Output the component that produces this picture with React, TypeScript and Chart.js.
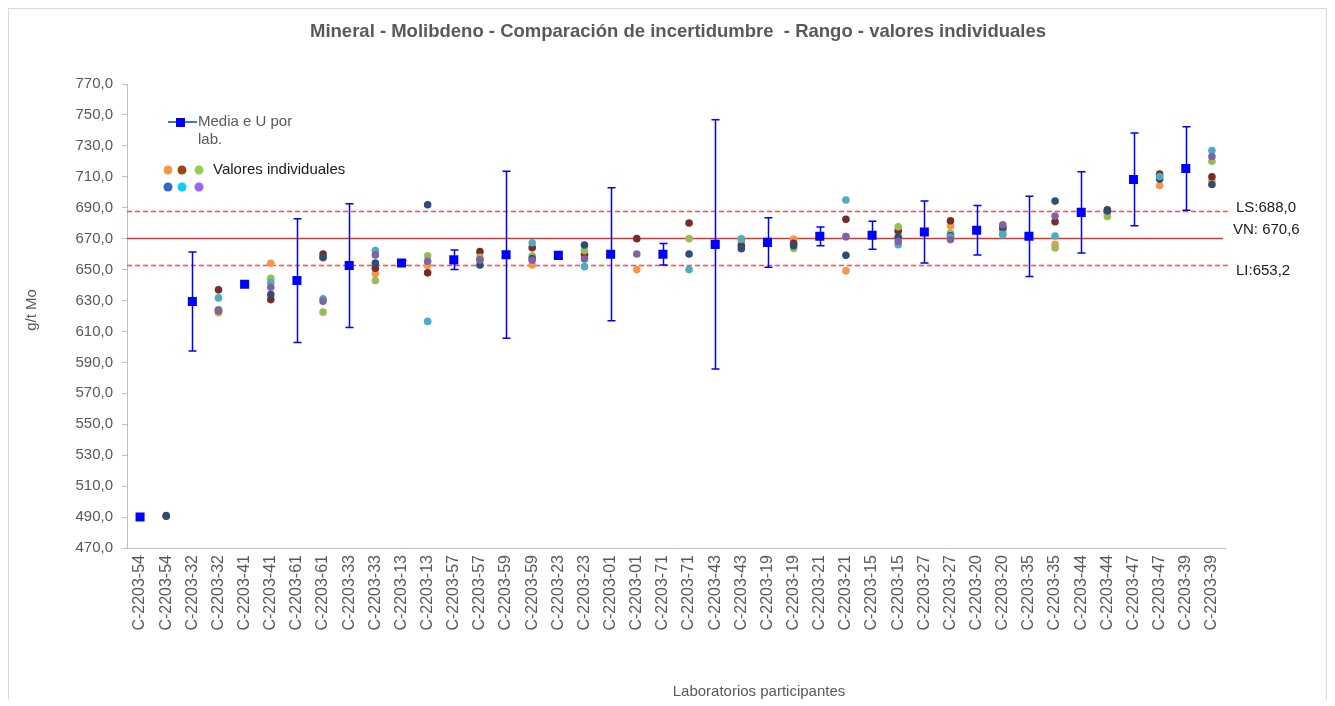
import React, { useEffect, useRef } from 'react';
import { Chart, registerables } from 'chart.js';

Chart.register(...registerables);

// ---------- DATA ----------
const labIds = ['54', '32', '41', '61', '33', '13', '57', '59', '23', '01', '71', '43', '19', '21', '15', '27', '20', '35', '44', '47', '39'];
const categories = labIds.flatMap((id) => [`C-2203-${id}`, `C-2203-${id}`]);

// mean and expanded uncertainty per lab
const labMean = [490.0, 629.4, 640.5, 642.9, 652.6, 654.3, 656.3, 659.6, 659.2, 659.9, 659.9, 666.3, 667.6, 671.5, 672.2, 674.3, 675.4, 671.5, 687.0, 708.3, 715.4];
const labU = [0, 32.0, 0, 40.0, 40.0, 1.5, 6.3, 54.0, 0, 43.0, 7.0, 80.6, 16.0, 6.0, 9.0, 20.0, 16.0, 26.0, 26.3, 30.0, 27.0];

// individual values per lab, one array per series
const valOrange = [null, 622.1, 654.1, 657.5, 647.4, 652.6, 656.5, 653.0, 658.4, 650.0, null, 668.5, 669.8, 649.2, 674.0, 678.2, 674.7, 666.3, 686.3, 704.4, 707.4];
const valBrown = [490.6, 636.9, 630.6, 660.1, 650.9, 647.9, 661.6, 664.2, 660.1, 670.0, 680.1, 665.5, 667.0, 682.5, 675.2, 681.6, 676.9, 681.0, 688.7, 711.7, 710.0];
const valGreen = [null, 624.2, 644.4, 622.5, 642.9, 659.0, 658.0, 659.0, 662.3, null, 670.0, 670.0, 663.7, 671.3, 677.7, 673.7, 673.0, 664.0, 684.4, null, 720.1];
const valDarkBlue = [490.9, 623.5, 633.9, 658.0, 654.3, 691.9, 653.0, 657.1, 665.9, null, 660.1, 663.5, 665.5, 659.2, 670.9, 671.9, 677.5, 694.3, 688.0, 708.5, 705.0];
const valCyan = [null, 631.7, 641.6, 631.1, 662.3, 616.5, 656.3, 667.4, 651.9, null, 650.0, 669.5, null, 695.0, 666.1, 671.0, 672.6, 671.7, null, 710.2, 727.0];
const valPurple = [null, 623.5, 638.6, 629.6, 659.5, 655.4, 656.3, 656.0, 656.9, 660.1, null, null, null, 671.3, 668.1, 669.4, 679.0, 684.6, null, null, 723.1];

// reference values
const refLS = 688.0;
const refVN = 670.6;
const refLI = 653.2;

const yMin = 470;
const yMax = 770;
const yStep = 20;

const titleText = 'Mineral - Molibdeno - Comparación de incertidumbre  - Rango - valores individuales';
const yTitle = 'g/t Mo';
const xTitle = 'Laboratorios participantes';
const legendMean = ['Media e U por', 'lab.'];
const legendInd = 'Valores individuales';

// ---------- STYLE ----------
const FONT = "'Liberation Sans', Arial, sans-serif";
const GREY = '#595959';
const AXIS = '#BFBFBF';
const seriesColors = ['#F79646', '#772C2A', '#9BBB59', '#2C4D75', '#4BACC6', '#8064A2'];
const legendColors = ['#F79646', '#9A4712', '#92D050', '#3366CC', '#0FCBF7', '#9966FF'];
const MEAN_COLOR = '#0000FF';

const fmt = (v: number) => v.toFixed(1).replace('.', ',');

const expandMean = categories.map((_, i) => (i % 2 === 0 ? labMean[i / 2] : null));
const expandInd = (arr: (number | null)[]) => categories.map((_, i) => (i % 2 === 1 ? arr[(i - 1) / 2] : null));

const individualSeries = [valOrange, valBrown, valGreen, valDarkBlue, valCyan, valPurple];

const decorPlugin = {
  id: 'decor',
  beforeDatasetsDraw(chart: any) {
    const { ctx, chartArea, scales } = chart;
    const x = scales.x;
    const y = scales.y;
    ctx.save();
    // reference lines
    const drawRef = (v: number, dashed: boolean, color: string, extra: number) => {
      const py = Math.round(y.getPixelForValue(v)) + 0.5;
      ctx.beginPath();
      ctx.strokeStyle = color;
      ctx.lineWidth = 1.5;
      ctx.setLineDash(dashed ? [5, 3] : []);
      ctx.moveTo(chartArea.left, py);
      ctx.lineTo(chartArea.right + extra, py);
      ctx.stroke();
    };
    drawRef(refLS, true, '#FF4D4D', 3);
    drawRef(refLI, true, '#FF4D4D', 3);
    drawRef(refVN, false, '#E8302F', -2);
    ctx.setLineDash([]);
    // error bars
    ctx.strokeStyle = MEAN_COLOR;
    ctx.lineWidth = 1.5;
    labMean.forEach((m, j) => {
      const u = labU[j];
      if (!u) return;
      const px = Math.round(x.getPixelForValue(2 * j)) + 0.5;
      const yt = y.getPixelForValue(m + u);
      const yb = y.getPixelForValue(m - u);
      ctx.beginPath();
      ctx.moveTo(px, yt);
      ctx.lineTo(px, yb);
      ctx.moveTo(px - 4, yt);
      ctx.lineTo(px + 4, yt);
      ctx.moveTo(px - 4, yb);
      ctx.lineTo(px + 4, yb);
      ctx.stroke();
    });
    ctx.restore();
  },
  afterDraw(chart: any) {
    const { ctx, chartArea, scales, width, height } = chart;
    const y = scales.y;
    ctx.save();
    // outer border
    ctx.strokeStyle = '#D9D9D9';
    ctx.lineWidth = 1;
    ctx.strokeRect(0.5, 0.5, width - 1, height + 10);

    // title
    ctx.fillStyle = GREY;
    ctx.font = `bold 18.5px ${FONT}`;
    ctx.textAlign = 'center';
    ctx.textBaseline = 'middle';
    ctx.fillText(titleText, 670, 24);

    // axis titles
    ctx.font = `15px ${FONT}`;
    ctx.fillText(xTitle, 751, 684);
    ctx.save();
    ctx.translate(24, 302);
    ctx.rotate(-Math.PI / 2);
    ctx.fillText(yTitle, 0, 0);
    ctx.restore();

    // reference labels
    ctx.textAlign = 'left';
    ctx.fillStyle = '#1A1A1A';
    ctx.font = `15px ${FONT}`;
    ctx.fillText(`LS:${fmt(refLS)}`, chartArea.right + 11, y.getPixelForValue(refLS) - 3);
    ctx.fillText(`VN: ${fmt(refVN)}`, chartArea.right + 8, y.getPixelForValue(refVN) - 8);
    ctx.fillText(`LI:${fmt(refLI)}`, chartArea.right + 11, y.getPixelForValue(refLI) + 6);

    // legend
    ctx.strokeStyle = '#4472C4';
    ctx.lineWidth = 2;
    ctx.beginPath();
    ctx.moveTo(160, 114);
    ctx.lineTo(189, 114);
    ctx.stroke();
    ctx.fillStyle = MEAN_COLOR;
    ctx.fillRect(168, 110, 9, 9);
    ctx.fillStyle = GREY;
    ctx.fillText(legendMean[0], 190, 114);
    ctx.fillText(legendMean[1], 190, 132);
    const dotX = [160, 174, 191];
    legendColors.forEach((c, i) => {
      ctx.beginPath();
      ctx.fillStyle = c;
      ctx.arc(dotX[i % 3], i < 3 ? 162 : 179, 4.5, 0, Math.PI * 2);
      ctx.fill();
    });
    ctx.fillStyle = '#1A1A1A';
    ctx.fillText(legendInd, 205, 162);
    ctx.restore();
  },
};

export default function App() {
  const ref = useRef<HTMLCanvasElement | null>(null);
  useEffect(() => {
    if (!ref.current) return;
    const datasets: any[] = [
      {
        label: 'Media e U por lab.',
        data: expandMean,
        showLine: false,
        pointStyle: 'rect',
        pointRadius: 6.4,
        pointBackgroundColor: MEAN_COLOR,
        pointBorderWidth: 0,
        borderColor: MEAN_COLOR,
        backgroundColor: MEAN_COLOR,
        order: 0,
      },
      ...individualSeries.map((arr, k) => ({
        label: `Valores individuales ${k + 1}`,
        data: expandInd(arr),
        showLine: false,
        pointStyle: 'circle',
        pointRadius: 3.8,
        pointBorderWidth: 0,
        pointBackgroundColor: seriesColors[k],
        backgroundColor: seriesColors[k],
        borderColor: seriesColors[k],
        order: 6 - k,
      })),
    ];
    const chart = new Chart(ref.current, {
      type: 'line',
      data: { labels: categories, datasets },
      options: {
        animation: false,
        responsive: false,
        devicePixelRatio: 1,
        layout: { padding: { top: 76, right: 102, bottom: 0, left: 0 } },
        plugins: { legend: { display: false }, tooltip: { enabled: false }, title: { display: false } },
        scales: {
          x: {
            type: 'category',
            offset: true,
            afterFit: (s: any) => { s.height = 152; },
            grid: { display: true, drawOnChartArea: false, drawTicks: false },
            border: { color: AXIS, width: 1 },
            ticks: {
              autoSkip: false,
              minRotation: 90,
              maxRotation: 90,
              padding: 7,
              color: GREY,
              font: { family: FONT, size: 16 },
            },
          },
          y: {
            type: 'linear',
            min: yMin,
            max: yMax,
            afterFit: (s: any) => { s.width = 119; },
            grid: { display: true, drawOnChartArea: false, drawTicks: true, tickLength: 5, color: AXIS },
            border: { color: AXIS, width: 1 },
            ticks: {
              stepSize: yStep,
              padding: 9,
              color: GREY,
              font: { family: FONT, size: 15 },
              callback: (v: any) => fmt(Number(v)),
            },
          },
        },
      },
      plugins: [decorPlugin],
    });
    return () => chart.destroy();
  }, []);
  return (
    <div style={{ width: 1319, height: 692 }}>
      <canvas ref={ref} width={1319} height={692} style={{ display: 'block' }} />
    </div>
  );
}
